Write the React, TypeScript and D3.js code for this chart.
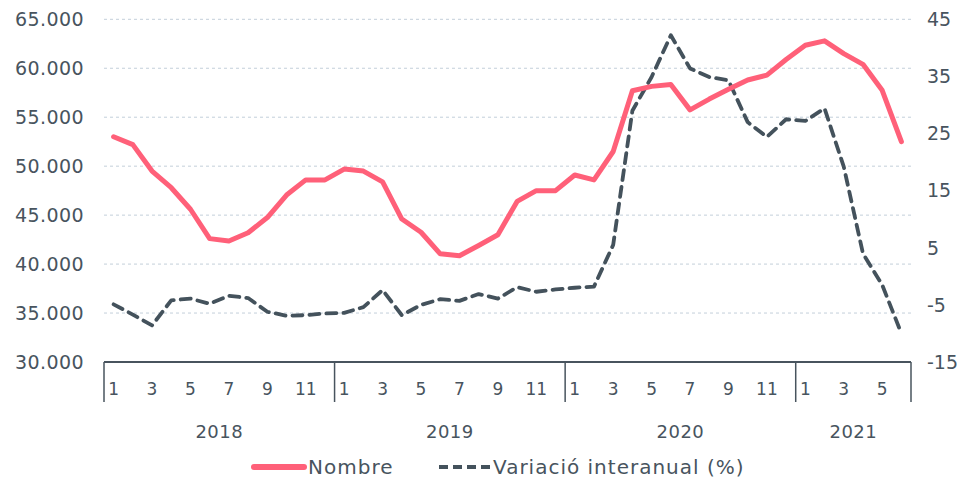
import React from 'react'
import { scaleBand, scaleLinear, line, curveLinear } from 'd3'

const width = 957
const height = 479

// years and how many months each one has in the series
const years = ['2018', '2019', '2020', '2021']
const monthsPerYear = [12, 12, 12, 6]

// Nombre (left axis)
const nombre = [
  53000, 52200, 49500, 47800, 45600, 42600, 42350, 43200, 44750, 47050, 48600, 48600,
  49700, 49500, 48400, 44600, 43250, 41050, 40850, 41900, 43000, 46400, 47500, 47500,
  49100, 48600, 51500, 57700, 58150, 58350, 55750, 56850, 57850, 58800, 59300, 60900,
  62350, 62800, 61500, 60400, 57750, 52500,
]

// Variació interanual (%) (right axis)
const variacio = [
  -4.9, -6.7, -8.6, -4.2, -3.9, -4.8, -3.4, -3.8, -6.2, -6.9, -6.8, -6.5,
  -6.4, -5.4, -2.4, -6.8, -5.0, -4.0, -4.3, -3.1, -3.9, -1.9, -2.7, -2.3,
  -2.0, -1.8, 5.5, 29.0, 34.9, 42.2, 36.4, 34.9, 34.3, 27.0, 24.4, 27.5,
  27.2, 29.4, 19.2, 4.0, -1.5, -10.0,
]

const leftTicks = [30000, 35000, 40000, 45000, 50000, 55000, 60000, 65000]
const rightTicks = [-15, -5, 5, 15, 25, 35, 45]

const textColor = '#48545e'
const pink = '#ff6079'
const slate = '#44525c'
const font = '"DejaVu Sans", sans-serif'

const fmtLeft = (v: number) => String(v).replace(/(\d)(?=(\d{3})+$)/g, '$1.')

export default function App() {
  const keys: string[] = []
  const monthOf: number[] = []
  years.forEach((y, i) => {
    for (let m = 1; m <= monthsPerYear[i]; m++) {
      keys.push(y + '-' + m)
      monthOf.push(m)
    }
  })

  const x = scaleBand<string>().domain(keys).range([104, 911])
  const yLeft = scaleLinear().domain([30000, 65000]).range([362, 19.3])
  const yRight = scaleLinear().domain([-15, 45]).range([362, 19.3])

  const cx = (i: number) => (x(keys[i]) as number) + x.bandwidth() / 2

  const nombreLine = line<number>()
    .x((_, i) => cx(i))
    .y(d => yLeft(d))
    .curve(curveLinear)
  const varLine = line<number>()
    .x((_, i) => cx(i))
    .y(d => yRight(d))
    .curve(curveLinear)

  // year boundaries
  let start = 0
  const yearBands = years.map((y, i) => {
    const x0 = x(keys[start]) as number
    const x1 = x0 + x.bandwidth() * monthsPerYear[i]
    start += monthsPerYear[i]
    return { y, x0, x1 }
  })

  return (
    <svg width={width} height={height} style={{ position: 'absolute', left: 0, top: 0 }}>
      <rect width={width} height={height} fill="#fff" />
      {leftTicks.slice(1).map(t => (
        <line key={t} x1={104} x2={911} y1={yLeft(t)} y2={yLeft(t)}
          stroke="#c3cfda" strokeWidth={1} strokeDasharray="3,3" />
      ))}
      {leftTicks.map(t => (
        <text key={t} x={84} y={yLeft(t)} dy="0.36em" textAnchor="end" letterSpacing={0.4}
          fontFamily={font} fontSize={19} fill={textColor}>{fmtLeft(t)}</text>
      ))}
      {rightTicks.map(t => (
        <text key={t} x={927} y={yRight(t)} dy="0.36em" textAnchor="start"
          fontFamily={font} fontSize={19} fill={textColor}>{t}</text>
      ))}

      {/* x axis */}
      <line x1={104} x2={911} y1={362} y2={362} stroke={textColor} strokeWidth={2} />
      {yearBands.map(b => (
        <line key={'s' + b.y} x1={b.x0} x2={b.x0} y1={362} y2={402} stroke={textColor} strokeWidth={1.5} />
      ))}
      <line x1={911} x2={911} y1={362} y2={402} stroke={textColor} strokeWidth={1.5} />
      {keys.map((k, i) => monthOf[i] % 2 === 1 ? (
        <text key={k} x={cx(i)} y={389} dy="0.36em" textAnchor="middle"
          fontFamily={font} fontSize={17} fill={textColor}>{monthOf[i]}</text>
      ) : null)}
      {yearBands.map(b => (
        <text key={b.y} x={(b.x0 + b.x1) / 2} y={432} dy="0.36em" textAnchor="middle" letterSpacing={0.5}
          fontFamily={font} fontSize={18} fill={textColor}>{b.y}</text>
      ))}

      <path d={varLine(variacio) || ''} fill="none" stroke={slate} strokeWidth={3.8}
        strokeDasharray="10,7" strokeLinecap="round" strokeLinejoin="round" />
      <path d={nombreLine(nombre) || ''} fill="none" stroke={pink} strokeWidth={5}
        strokeLinecap="round" strokeLinejoin="round" />

      {/* legend */}
      <line x1={254} x2={304} y1={467} y2={467} stroke={pink} strokeWidth={6} strokeLinecap="round" />
      <text x={308} y={467} dy="0.36em" fontFamily={font} fontSize={20} letterSpacing={1} fill={textColor}>Nombre</text>
      <line x1={439} x2={490} y1={467} y2={467} stroke={slate} strokeWidth={4}
        strokeDasharray="9,5" />
      <text x={493} y={467} dy="0.36em" fontFamily={font} fontSize={20} letterSpacing={1} fill={textColor}>Variació interanual (%)</text>
    </svg>
  )
}
